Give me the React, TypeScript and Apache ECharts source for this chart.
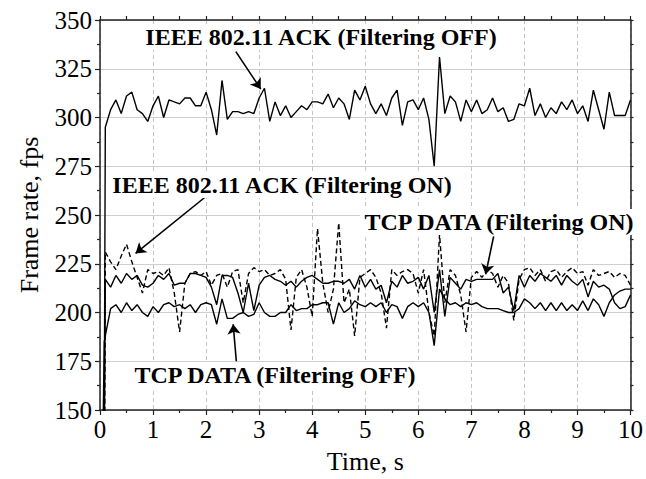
import React, { useEffect, useRef } from "react";
import * as echarts from "echarts";

// Sampling instants (s)
const sampleTimes = [
  0.1, 0.2, 0.3, 0.4, 0.5, 0.6, 0.7, 0.8, 0.9, 1.0,
  1.1, 1.2, 1.3, 1.4, 1.5, 1.6, 1.7, 1.8, 1.9, 2.0,
  2.1, 2.2, 2.3, 2.4, 2.5, 2.6, 2.7, 2.8, 2.9, 3.0,
  3.1, 3.2, 3.3, 3.4, 3.5, 3.6, 3.7, 3.8, 3.9, 4.0,
  4.1, 4.2, 4.3, 4.4, 4.5, 4.6, 4.7, 4.8, 4.9, 5.0,
  5.1, 5.2, 5.3, 5.4, 5.5, 5.6, 5.7, 5.8, 5.9, 6.0,
  6.1, 6.2, 6.3, 6.4, 6.5, 6.6, 6.7, 6.8, 6.9, 7.0,
  7.1, 7.2, 7.3, 7.4, 7.5, 7.6, 7.7, 7.8, 7.9, 8.0,
  8.1, 8.2, 8.3, 8.4, 8.5, 8.6, 8.7, 8.8, 8.9, 9.0,
  9.1, 9.2, 9.3, 9.4, 9.5, 9.6, 9.7, 9.8, 9.9, 10.0,
];

// IEEE 802.11 ACK (Filtering OFF)
const ackOff = [
  295, 304, 309, 302, 311, 313, 304, 302, 298, 306,
  311, 300, 309, 308, 307, 310, 310, 306, 306, 313,
  304, 291, 319, 299, 303, 303, 302, 303, 302, 310,
  315, 298, 308, 301, 306, 300, 303, 306, 304, 308,
  308, 307, 312, 305, 310, 307, 299, 314, 309, 316,
  307, 302, 307, 301, 310, 314, 296, 308, 309, 304,
  310, 299, 275, 331, 302, 311, 308, 298, 309, 303,
  309, 302, 304, 310, 303, 305, 298, 299, 307, 306,
  315, 301, 307, 300, 305, 302, 308, 304, 309, 302,
  306, 298, 314, 304, 294, 313, 301, 301, 301, 309,
];

// IEEE 802.11 ACK (Filtering ON) - dashed
const ackOn = [
  231, 226, 222, 229, 235, 226, 218, 210, 222, 220,
  221, 219, 223, 210, 190, 215, 220, 221, 219, 221,
  214, 219, 220, 213, 221, 222, 205, 220, 223, 221,
  222, 219, 220, 222, 217, 191, 218, 222, 213, 198,
  243, 215, 200, 212, 246, 205, 212, 188, 218, 220,
  222, 218, 210, 192, 222, 219, 221, 222, 220, 210,
  222, 200, 188, 240, 205, 222, 219, 209, 190, 218,
  221, 218, 222, 220, 213, 219, 215, 196, 217, 222,
  223, 219, 222, 216, 221, 222, 218, 221, 223, 220,
  221, 214, 222, 219, 220, 221, 218, 220, 219, 214,
];

// TCP DATA (Filtering ON)
const tcpOn = [
  217, 213, 219, 215, 220, 217, 219, 214, 213, 215,
  219, 217, 220, 214, 215, 215, 220, 220, 219, 218,
  213, 204, 219, 219, 218, 210, 200, 215, 201, 214,
  218, 219, 217, 216, 214, 216, 213, 216, 218, 219,
  217, 215, 215, 216, 216, 215, 217, 212, 219, 213,
  217, 212, 214, 205, 216, 213, 219, 215, 216, 218,
  212, 219, 200, 222, 198, 218, 215, 212, 217, 216,
  217, 217, 217, 217, 220, 210, 213, 201, 219, 213,
  219, 216, 220, 218, 216, 219, 214, 219, 216, 214,
  217, 208, 216, 213, 214, 212, 205, 202, 203, 209,
];

// TCP DATA (Filtering OFF)
const tcpOff = [
  188, 202, 204, 200, 205, 201, 204, 200, 198, 203,
  200, 204, 205, 203, 204, 202, 204, 200, 204, 205,
  204, 194, 207, 197, 197, 199, 200, 198, 199, 205,
  200, 198, 198, 200, 200, 204, 201, 202, 202, 204,
  204, 205, 205, 194, 205, 200, 202, 206, 204, 203,
  205, 203, 205, 200, 204, 203, 197, 203, 205, 203,
  205, 200, 183, 212, 207, 204, 205, 203, 205, 204,
  205, 203, 202, 202, 202, 201, 200, 200, 202, 207,
  205, 202, 205, 201, 205, 201, 205, 201, 204, 201,
  206, 201, 207, 204, 198, 205, 209, 211, 212, 212,
];

// Start-up ramps (from below the axis) before the first sample
const ackOffLeadIn = [[0.08, 145]];
const ackOnLeadIn = [[0.09, 145]];
const tcpOnLeadIn = [[0.085, 145]];
const tcpOffLeadIn = [[0.06, 145], [0.08, 185]];

// Axis ranges / ticks
const xMin = 0, xMax = 10, xStep = 1;
const yMin = 150, yMax = 350, yStep = 25;

// Annotation texts and arrows (data coordinates)
const labelTexts = [
  "IEEE 802.11 ACK (Filtering OFF)",
  "IEEE 802.11 ACK (Filtering ON)",
  "TCP DATA (Filtering ON)",
  "TCP DATA (Filtering OFF)",
];
const arrowFrom = [[2.56, 333.8], [2.02, 260], [7.42, 239], [2.57, 175]];
const arrowTo = [[3.03, 314.6], [0.67, 230.3], [7.27, 219.6], [2.51, 194]];

export default function App() {
  const ref = useRef<HTMLDivElement>(null);

  useEffect(() => {
    if (!ref.current) return;
    const chart = echarts.init(ref.current, null, { renderer: "svg" });
    const serif = '"Liberation Serif", "Times New Roman", serif';
    const axisColor = "#222";

    const build = (vals: number[], lead: number[][]) => [
      ...lead,
      ...sampleTimes.map((t, i) => [t, vals[i]]),
    ];

    const mkLine = (name: string, data: number[][], dashed: boolean, extra: any = {}) => ({
      type: "line",
      name,
      data,
      symbol: "none",
      showSymbol: false,
      clip: true,
      silent: true,
      z: 3,
      lineStyle: { color: "#000", width: 1.4, type: dashed ? [5, 3] : "solid" },
      ...extra,
    });

    const arrows = {
      silent: true,
      symbol: ["none", "arrow"],
      symbolSize: 10,
      label: { show: false },
      lineStyle: { color: "#000", width: 1.6, type: "solid" },
      emphasis: { disabled: true },
      data: arrowFrom.map((f, i) => [{ coord: f }, { coord: arrowTo[i] }]),
    };

    const tickStyle = { color: axisColor, width: 1.2 };

    chart.setOption({
      animation: false,
      grid: { left: 100, right: 12, top: 20, bottom: 68, containLabel: false },
      xAxis: [
        {
          type: "value",
          min: xMin,
          max: xMax,
          interval: xStep,
          position: "bottom",
          axisLine: { show: true, onZero: false, lineStyle: { color: axisColor, width: 1.5 } },
          axisTick: { show: true, inside: false, length: 5, lineStyle: tickStyle },
          minorTick: { show: true, splitNumber: 2, length: 3, lineStyle: tickStyle },
          axisLabel: { color: "#000", fontFamily: serif, fontSize: 25, margin: 7 },
          splitLine: { show: true, lineStyle: { color: "#c4c4c4", type: [4, 3], width: 1 } },
          name: "Time, s",
          nameLocation: "middle",
          nameGap: 38,
          nameTextStyle: { color: "#000", fontFamily: serif, fontSize: 26 },
        },
        {
          type: "value",
          min: xMin,
          max: xMax,
          interval: xStep / 2,
          position: "top",
          axisLine: { show: true, onZero: false, lineStyle: { color: axisColor, width: 1.5 } },
          axisTick: { show: true, inside: false, length: 4, lineStyle: tickStyle },
          axisLabel: { show: false },
          splitLine: { show: false },
        },
      ],
      yAxis: [
        {
          type: "value",
          min: yMin,
          max: yMax,
          interval: yStep,
          position: "left",
          axisLine: { show: true, onZero: false, lineStyle: { color: axisColor, width: 1.5 } },
          axisTick: { show: true, inside: false, length: 5, lineStyle: tickStyle },
          minorTick: { show: true, splitNumber: 2, length: 3, lineStyle: tickStyle },
          axisLabel: { color: "#000", fontFamily: serif, fontSize: 25, margin: 8 },
          splitLine: { show: true, lineStyle: { color: "#cfcfcf", type: "solid", width: 1 } },
          name: "Frame rate, fps",
          nameLocation: "middle",
          nameGap: 58,
          nameRotate: 90,
          nameTextStyle: { color: "#000", fontFamily: serif, fontSize: 26 },
        },
        {
          type: "value",
          min: yMin,
          max: yMax,
          interval: yStep / 2,
          position: "right",
          axisLine: { show: true, onZero: false, lineStyle: { color: axisColor, width: 1.5 } },
          axisTick: { show: true, inside: false, length: 3, lineStyle: tickStyle },
          axisLabel: { show: false },
          splitLine: { show: false },
        },
      ],
      series: [
        mkLine("IEEE 802.11 ACK (Filtering OFF)", build(ackOff, ackOffLeadIn), false, { markLine: arrows }),
        mkLine("IEEE 802.11 ACK (Filtering ON)", build(ackOn, ackOnLeadIn), true),
        mkLine("TCP DATA (Filtering ON)", build(tcpOn, tcpOnLeadIn), false),
        mkLine("TCP DATA (Filtering OFF)", build(tcpOff, tcpOffLeadIn), false),
      ],
      graphic: [
        { x: 321, y: 37 },
        { x: 282, y: 185 },
        { x: 499, y: 222 },
        { x: 275, y: 375 },
      ].map((p, i) => ({
        type: "text",
        x: p.x,
        y: p.y,
        z: 50,
        silent: true,
        style: {
          text: labelTexts[i],
          font: 'bold 24px "Liberation Serif", "Times New Roman", serif',
          fill: "#000",
          align: "center",
          verticalAlign: "middle",
          backgroundColor: "#fff",
          padding: [1, 3],
        },
      })),
    });

    return () => chart.dispose();
  }, []);

  return (
    <div
      ref={ref}
      style={{ position: "fixed", left: 0, top: 0, width: 646, height: 479, background: "#fff" }}
    />
  );
}
